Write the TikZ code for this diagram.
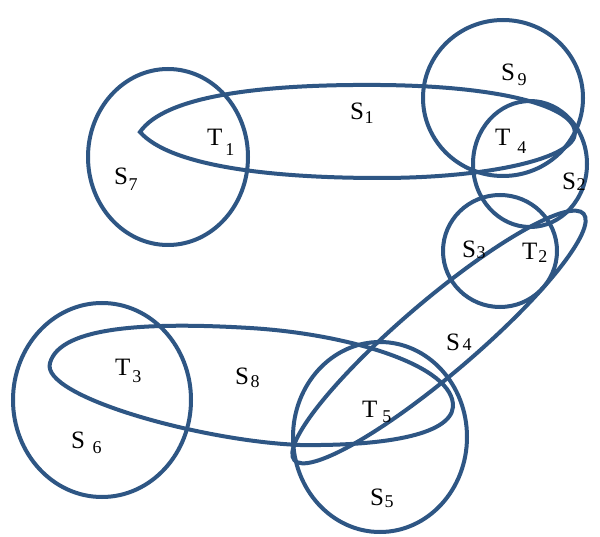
\documentclass[tikz,border=0pt]{standalone}
\usepackage{fontspec}
\setmainfont{Liberation Serif}
% #1 letter, #2 digit, #3 kern, #4 lowering
\newcommand\sublab[4]{#1\kern#3pt\raisebox{-#4pt}{\fontsize{18}{18}\selectfont #2}}
\begin{document}
\begin{tikzpicture}[x=1pt,y=1pt]
\definecolor{setblue}{RGB}{46,86,132}
\tikzset{setline/.style={draw=setblue,line width=4pt},
  lbl/.style={inner sep=0pt,anchor=base west,font=\fontsize{25}{25}\selectfont}}
\useasboundingbox[fill=white] (0,0) rectangle (600,536);
% circles
\draw[setline] (168,379) ellipse [x radius=80,y radius=88];
\draw[setline] (503,438) ellipse [x radius=80,y radius=78];
\draw[setline] (530,372) ellipse [x radius=57,y radius=63];
\draw[setline] (500,285) ellipse [x radius=57,y radius=56];
\draw[setline] (102,136) ellipse [x radius=89,y radius=97];
\draw[setline] (380,99) ellipse [x radius=87,y radius=95];
% S1 long loop
\draw[setline] (140,404) .. controls (165,440) and (260,452) .. (380,451)
  .. controls (500,450) and (575,430) .. (575,403)
  .. controls (575,378) and (490,358) .. (380,358)
  .. controls (270,358) and (170,370) .. cycle;
% S8 long loop
\draw[setline] (50,173) .. controls (60,210) and (150,214) .. (250,208)
  .. controls (350,202) and (455,170) .. (453,129)
  .. controls (450,100) and (380,90) .. (300,91)
  .. controls (200,95) and (40,140) .. cycle;
% S4 tilted ellipse
\draw[setline,rotate around={40.4:(439,199)}] (439,199) ellipse [x radius=190,y radius=37];
% labels (base west of the capital letter)
\node[lbl] (s1) at (350,416) {\sublab{S}{1}{0.5}{4}};
\node[lbl] (t1) at (207,390) {\sublab{T}{1}{3}{10}};
\node[lbl] (s7) at (114,351) {\sublab{S}{7}{0.5}{6}};
\node[lbl] (s9) at (501,455) {\sublab{S}{9}{2.5}{5}};
\node[lbl] (t4) at (495,390) {\sublab{T}{4}{7}{8}};
\node[lbl] (s2) at (562,346) {\sublab{S}{2}{0.5}{1}};
\node[lbl] (s3) at (462,278) {\sublab{S}{3}{0.5}{1}};
\node[lbl] (t2) at (522,276) {\sublab{T}{2}{1}{3}};
\node[lbl] (s4) at (446,185) {\sublab{S}{4}{2.5}{0}};
\node[lbl] (t3) at (115,160) {\sublab{T}{3}{2}{7}};
\node[lbl] (s8) at (235,151) {\sublab{S}{8}{1.5}{3}};
\node[lbl] (s6) at (71,88) {\sublab{S}{6}{7.5}{5}};
\node[lbl] (t5) at (362,118) {\sublab{T}{5}{5}{5}};
\node[lbl] (s5) at (370,31) {\sublab{S}{5}{0.5}{3}};
\end{tikzpicture}
\end{document}
